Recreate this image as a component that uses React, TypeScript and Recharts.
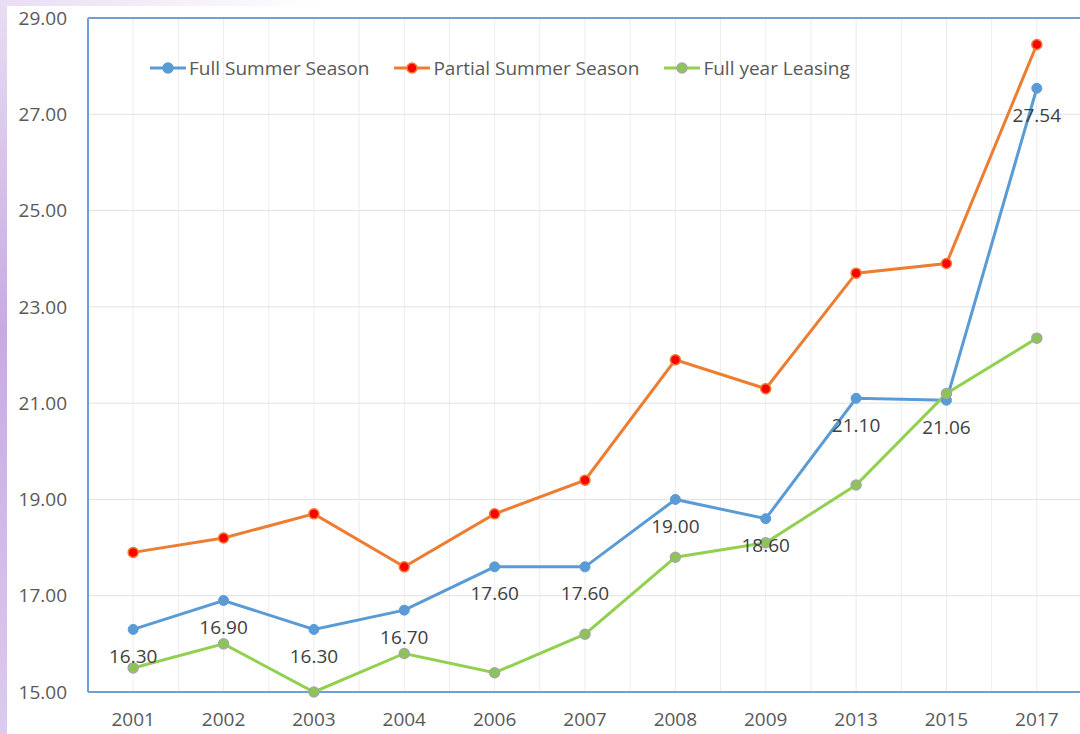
import React from "react";
import {
  LineChart,
  Line,
  XAxis,
  YAxis,
  CartesianGrid,
  Legend,
  LabelList,
  ReferenceLine,
} from "recharts";

const years = ["2001", "2002", "2003", "2004", "2006", "2007", "2008", "2009", "2013", "2015", "2017"];
const fullSummer = [16.3, 16.9, 16.3, 16.7, 17.6, 17.6, 19.0, 18.6, 21.1, 21.06, 27.54];
const partialSummer = [17.9, 18.2, 18.7, 17.6, 18.7, 19.4, 21.9, 21.3, 23.7, 23.9, 28.45];
const fullYear = [15.5, 16.0, 15.0, 15.8, 15.4, 16.2, 17.8, 18.1, 19.3, 21.2, 22.35];
const yTicks = [15, 17, 19, 21, 23, 25, 27, 29];
const seriesNames = ["Full Summer Season", "Partial Summer Season", "Full year Leasing"];

const data = years.map((y, i) => ({
  year: y,
  full: fullSummer[i],
  partial: partialSummer[i],
  leasing: fullYear[i],
}));

const FONT = '"Open Sans", "Liberation Sans", sans-serif';
const BLUE = "#5B9BD5";
const ORANGE = "#ED7D31";
const GREEN = "#92D050";
const AXIS = "#6E9FD6";

const markerStyles: Record<string, { fill: string; stroke: string }> = {
  [seriesNames[0]]: { fill: BLUE, stroke: BLUE },
  [seriesNames[1]]: { fill: "#FF0000", stroke: ORANGE },
  [seriesNames[2]]: { fill: "#8DC456", stroke: "#A5A8A0" },
};

const renderLegend = (props: any) => {
  const payload = [...(props.payload || [])].sort(
    (a: any, b: any) => seriesNames.indexOf(a.value) - seriesNames.indexOf(b.value)
  );
  return (
    <div style={{ display: "flex", alignItems: "center", fontFamily: FONT, fontSize: 19, color: "#595959" }}>
      {payload.map((entry: any, i: number) => {
        const m = markerStyles[entry.value] || { fill: entry.color, stroke: entry.color };
        return (
          <div key={i} style={{ display: "flex", alignItems: "center", marginRight: 25 }}>
            <svg width={36} height={14} style={{ marginRight: 3 }}>
              <line x1={0} y1={7} x2={36} y2={7} stroke={entry.color} strokeWidth={3} />
              <circle cx={18} cy={7} r={5} fill={m.fill} stroke={m.stroke} strokeWidth={1.5} />
            </svg>
            <span style={{ lineHeight: "24px", whiteSpace: "nowrap" }}>{entry.value}</span>
          </div>
        );
      })}
    </div>
  );
};

export default function App() {
  return (
    <div
      style={{
        position: "absolute",
        left: 0,
        top: 0,
        width: 1080,
        height: 734,
        overflow: "hidden",
        background: "linear-gradient(180deg, #E9DDF4 0%, #C7AAE2 45%, #DCCAEF 100%)",
      }}
    >
      <div
        style={{
          position: "absolute",
          left: 0,
          top: 0,
          width: 1080,
          height: 6,
          background: "linear-gradient(90deg, #E9DDF4 0%, #F4EEF9 15%, #FFFFFF 30%)",
        }}
      />
      <div style={{ position: "absolute", left: 7, top: 6, right: 0, bottom: 0, background: "#FFFFFF" }} />
      <div style={{ position: "absolute", left: 0, top: 0 }}>
        <LineChart width={1082} height={734} data={data} margin={{ top: 18, right: 0, bottom: 0, left: 0 }}>
          <CartesianGrid
            horizontal={false}
            stroke="#EDEDED"
            strokeWidth={1}
            verticalCoordinatesGenerator={({ offset }: any) =>
              Array.from({ length: 22 }, (_, i) => offset.left + (offset.width * (i + 1)) / 22)
            }
          />
          <CartesianGrid vertical={false} stroke="#E2E2E2" strokeWidth={1} />
          <ReferenceLine y={29} stroke={AXIS} strokeWidth={2} ifOverflow="extendDomain" />
          <XAxis
            dataKey="year"
            scale="band"
            height={42}
            axisLine={{ stroke: AXIS, strokeWidth: 2 }}
            tickLine={false}
            tickSize={0}
            tickMargin={21}
            tick={{ fill: "#595959", fontSize: 19, fontFamily: FONT }}
            interval={0}
          />
          <YAxis
            width={88}
            domain={[15, 29]}
            ticks={yTicks}
            axisLine={{ stroke: AXIS, strokeWidth: 2 }}
            tickLine={false}
            tickSize={0}
            tickMargin={21}
            tickFormatter={(v: number) => v.toFixed(2)}
            tick={{ fill: "#595959", fontSize: 19, fontFamily: FONT }}
            interval={0}
          />
          <Legend
            verticalAlign="middle"
            align="center"
            content={renderLegend}
            wrapperStyle={{ position: "absolute", top: 56, left: 150, width: "auto" }}
          />
          <Line
            name={seriesNames[0]}
            dataKey="full"
            stroke={BLUE}
            strokeWidth={3}
            dot={{ r: 5, fill: BLUE, stroke: BLUE, strokeWidth: 1 }}
            activeDot={false}
            isAnimationActive={false}
          >
            <LabelList
              dataKey="full"
              position="bottom"
              offset={20}
              formatter={(v: any) => Number(v).toFixed(2)}
              style={{ fill: "#404040", fontSize: 19, fontFamily: FONT }}
            />
          </Line>
          <Line
            name={seriesNames[1]}
            dataKey="partial"
            stroke={ORANGE}
            strokeWidth={3}
            dot={{ r: 5, fill: "#FF0000", stroke: ORANGE, strokeWidth: 1.5 }}
            activeDot={false}
            isAnimationActive={false}
          />
          <Line
            name={seriesNames[2]}
            dataKey="leasing"
            stroke={GREEN}
            strokeWidth={3}
            dot={{ r: 5, fill: "#8DC456", stroke: "#A5A8A0", strokeWidth: 1.5 }}
            activeDot={false}
            isAnimationActive={false}
          />
        </LineChart>
      </div>
    </div>
  );
}
